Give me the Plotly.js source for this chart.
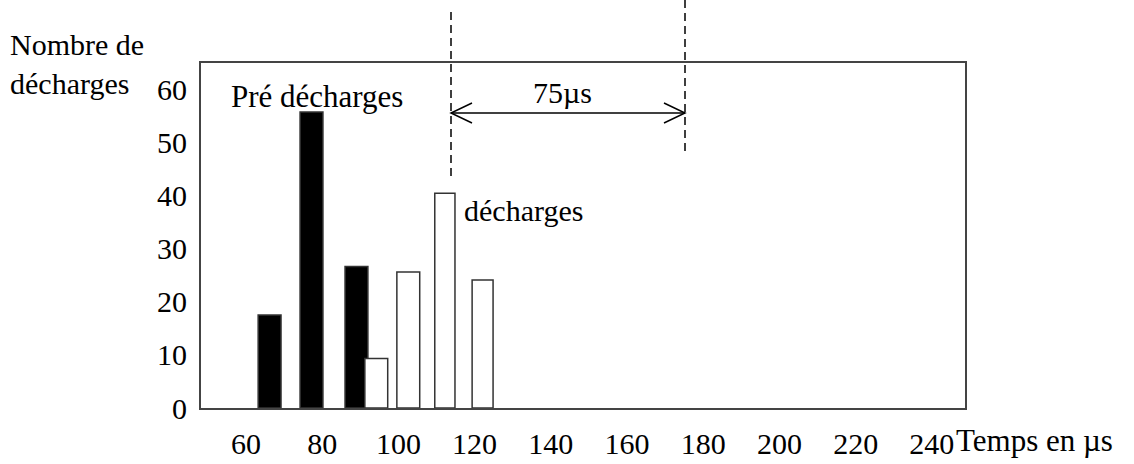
<!DOCTYPE html>
<html>
<head>
<meta charset="utf-8">
<script src="https://cdn.plot.ly/plotly-3.0.1.min.js"></script>
<style>html,body{margin:0;padding:0;background:#fff;}#chart{width:1134px;height:464px;}</style>
</head>
<body>
<div id="chart"></div>
<script>
// Data
const preX = [66.2, 77.2, 89.0];          // "Pré décharges" bar positions (µs axis)
const preCounts = [17.5, 55.7, 26.6];
const preWidths = [6.0, 6.0, 6.0];
const decX = [94.2, 102.6, 112.2, 122.1]; // "décharges" bar positions
const decCounts = [9.3, 25.6, 40.4, 24.1];
const decWidths = [6.0, 6.0, 5.3, 5.5];
const xTicks = [60, 80, 100, 120, 140, 160, 180, 200, 220, 240];
const yTicks = [0, 10, 20, 30, 40, 50, 60];

const FONT = "Liberation Serif, 'Times New Roman', serif";
// plot frame in pixels
const L = 201, R = 965, T = 63, B = 408;
const px = x => (x - L) / (R - L);
const py = y => (B - y) / (B - T);

const traces = [
  {type: 'bar', x: preX, y: preCounts, width: preWidths,
   marker: {color: '#000', line: {color: '#333', width: 1.5}}, hoverinfo: 'x+y', name: 'Pré décharges'},
  {type: 'bar', x: decX, y: decCounts, width: decWidths,
   marker: {color: '#fff', line: {color: '#333', width: 1.5}}, hoverinfo: 'x+y', name: 'décharges'}
];

const ax1 = 451, ax2 = 685, ay = 113;
const shapes = [
  {type: 'line', xref: 'paper', yref: 'paper', x0: px(ax1), x1: px(ax1), y0: py(12), y1: py(180),
   line: {color: '#000', width: 1.5, dash: '8px,5px'}},
  {type: 'line', xref: 'paper', yref: 'paper', x0: px(ax2), x1: px(ax2), y0: py(0), y1: py(155),
   line: {color: '#000', width: 1.5, dash: '8px,5px'}},
  {type: 'line', xref: 'paper', yref: 'paper', x0: px(ax1), x1: px(ax2), y0: py(ay), y1: py(ay),
   line: {color: '#000', width: 1.5}},
  {type: 'path', xref: 'paper', yref: 'paper',
   path: `M ${px(ax1 + 21)} ${py(ay - 10)} L ${px(ax1)} ${py(ay)} L ${px(ax1 + 21)} ${py(ay + 10)}`,
   line: {color: '#000', width: 1.5}},
  {type: 'path', xref: 'paper', yref: 'paper',
   path: `M ${px(ax2 - 21)} ${py(ay - 10)} L ${px(ax2)} ${py(ay)} L ${px(ax2 - 21)} ${py(ay + 10)}`,
   line: {color: '#000', width: 1.5}}
];

const txt = (text, x, y, xanchor, extra) => Object.assign({
  text: text, xref: 'paper', yref: 'paper', x: px(x), y: py(y), xanchor: xanchor, yanchor: 'middle',
  showarrow: false, font: {family: FONT, size: 30, color: '#000'}
}, extra || {});

const annotations = [
  txt('Nombre de<br>décharges', 8, 64, 'left', {align: 'left'}),
  txt('Pré décharges', 229, 97, 'left', {font: {family: FONT, size: 31, color: '#000'}}),
  txt('75µs', 562, 92, 'center'),
  txt('décharges', 462, 210, 'left'),
  txt('Temps en µs', 954, 441, 'left', {font: {family: FONT, size: 31, color: '#000'}})
];

const layout = {
  width: 1134, height: 464,
  margin: {l: L, r: 1134 - R, t: T, b: 464 - B, pad: 0},
  paper_bgcolor: '#fff', plot_bgcolor: '#fff',
  showlegend: false, barmode: 'overlay',
  font: {family: FONT, size: 30, color: '#000'},
  xaxis: {range: [48.2, 248.7], tickvals: xTicks, ticktext: xTicks.map(String),
    showgrid: false, zeroline: false, showline: true, mirror: true, linecolor: '#444', linewidth: 2,
    ticks: '', ticklabelstandoff: 8, tickfont: {family: FONT, size: 30, color: '#000'}},
  yaxis: {range: [0, 64.9], tickvals: yTicks, ticktext: yTicks.map(String),
    showgrid: false, zeroline: false, showline: true, mirror: true, linecolor: '#444', linewidth: 2,
    ticks: '', ticklabelstandoff: 6, tickfont: {family: FONT, size: 30, color: '#000'}},
  shapes: shapes, annotations: annotations
};

Plotly.newPlot('chart', traces, layout, {displayModeBar: false, staticPlot: true});
</script>
</body>
</html>
